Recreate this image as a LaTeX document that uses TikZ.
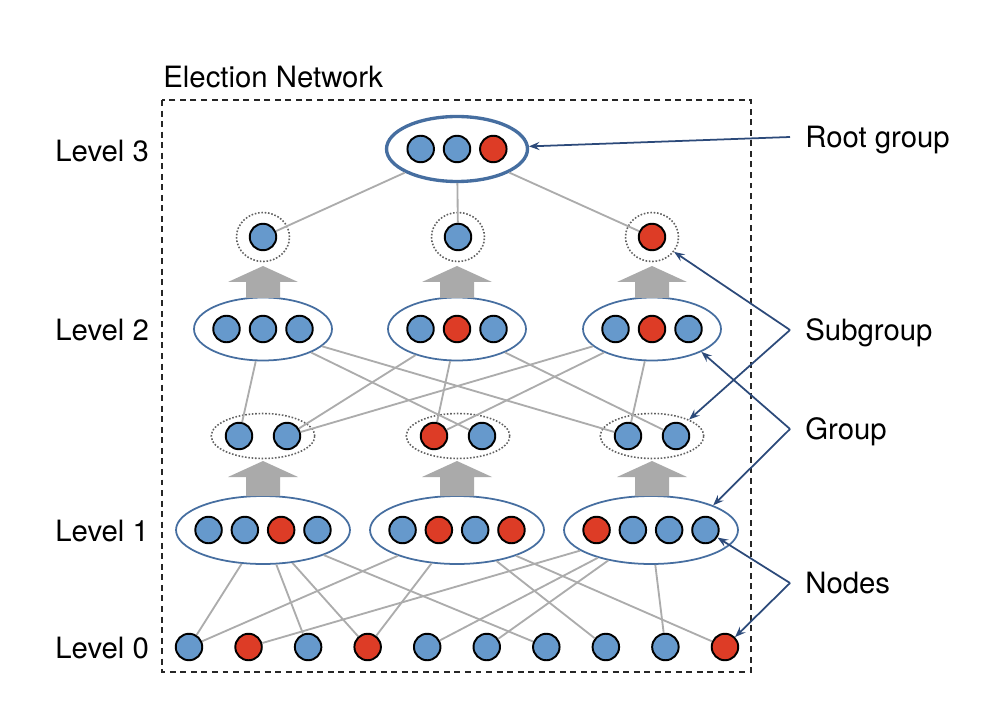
\documentclass[tikz,border=0pt]{standalone}
\usepackage{fontspec}
\setmainfont{TeX Gyre Heros}
\usetikzlibrary{shapes.geometric, arrows.meta, positioning}

\definecolor{nodeb}{RGB}{102,153,204}
\definecolor{noder}{RGB}{221,60,38}
\definecolor{grpblue}{RGB}{70,110,160}
\definecolor{annblue}{RGB}{44,74,122}
\definecolor{linkgray}{RGB}{172,172,172}
\definecolor{fatgray}{RGB}{170,170,170}

\begin{document}
\begin{tikzpicture}[x=0.02cm, y=-0.02cm,
    dot/.style={circle, draw=black, line width=1.1pt, minimum size=0.53cm, inner sep=0pt},
    group/.style={ellipse, draw=grpblue, line width=1pt, minimum width=3.48cm, minimum height=1.36cm, inner sep=0pt},
    upgroup/.style={group, minimum width=2.76cm, minimum height=1.26cm},
    rootgroup/.style={group, line width=1.9pt, minimum width=2.82cm, minimum height=1.3cm},
    subgroup/.style={ellipse, draw=black!62, line width=0.9pt, densely dotted, minimum width=2.07cm, minimum height=0.9cm, inner sep=0pt},
    single/.style={subgroup, minimum width=1.06cm, minimum height=0.98cm},
    link/.style={draw=linkgray, line width=1.05pt},
    annot/.style={-{Stealth[length=6pt, width=4.6pt, inset=2.2pt]}, draw=annblue, line width=1pt},
    lbl/.style={font=\fontsize{16.7}{20}\selectfont, inner sep=0pt, text height=12pt, text depth=0pt}]

    \useasboundingbox (0,0) rectangle (982,712);

    % frame and level labels
    \draw[black!85, line width=0.85pt, dash pattern=on 3.4pt off 2.6pt] (162,100) rectangle (751,672);
    \node[lbl, anchor=west] (title) at (163,77) {Election Network};
    \node[lbl, anchor=west] (lev3) at (55,151) {Level 3};
    \node[lbl, anchor=west] (lev2) at (55,330) {Level 2};
    \node[lbl, anchor=west] (lev1) at (55,531) {Level 1};
    \node[lbl, anchor=west] (lev0) at (55,648) {Level 0};

    % Level 0
    \foreach \c [count=\i from 0] in {b,r,b,r,b,b,b,b,b,r}
        \node[dot, fill=node\c] (n\i) at ({189+59.55*\i},647) {};

    % Level 1 groups
    \node[group] (g1) at (263,530) {};
    \node[group] (g2) at (457,530) {};
    \node[group] (g3) at (651,530) {};
    \foreach \c [count=\i] in {b,b,r,b} \node[dot, fill=node\c] (g1-\i) at ({263+36.3*(\i-2.5)},530) {};
    \foreach \c [count=\i] in {b,r,b,r} \node[dot, fill=node\c] (g2-\i) at ({457+36.3*(\i-2.5)},530) {};
    \foreach \c [count=\i] in {r,b,b,b} \node[dot, fill=node\c] (g3-\i) at ({651+36.3*(\i-2.5)},530) {};

    % subgroups of level 1
    \node[subgroup] (s1) at (263,436) {};
    \node[subgroup] (s2) at (458,436) {};
    \node[subgroup] (s3) at (652,436) {};
    \foreach \c [count=\i] in {b,b} \node[dot, fill=node\c] (s1-\i) at ({263+24*(2*\i-3)},436) {};
    \foreach \c [count=\i] in {r,b} \node[dot, fill=node\c] (s2-\i) at ({458+24*(2*\i-3)},436) {};
    \foreach \c [count=\i] in {b,b} \node[dot, fill=node\c] (s3-\i) at ({652+24*(2*\i-3)},436) {};

    % Level 2 groups
    \node[upgroup] (h1) at (263,329) {};
    \node[upgroup] (h2) at (457,329) {};
    \node[upgroup] (h3) at (652,329) {};
    \foreach \c [count=\i] in {b,b,b} \node[dot, fill=node\c] (h1-\i) at ({263+36.5*(\i-2)},329) {};
    \foreach \c [count=\i] in {b,r,b} \node[dot, fill=node\c] (h2-\i) at ({457+36.5*(\i-2)},329) {};
    \foreach \c [count=\i] in {b,r,b} \node[dot, fill=node\c] (h3-\i) at ({652+36.5*(\i-2)},329) {};

    % subgroups of level 2
    \node[single] (t1) at (263,237) {};
    \node[single] (t2) at (458,237) {};
    \node[single] (t3) at (652,237) {};
    \node[dot, fill=nodeb] (t1-1) at (263,237) {};
    \node[dot, fill=nodeb] (t2-1) at (458,237) {};
    \node[dot, fill=noder] (t3-1) at (652,237) {};

    % Level 3 root group
    \node[rootgroup] (root) at (457,149) {};
    \foreach \c [count=\i] in {b,b,r} \node[dot, fill=node\c] (r-\i) at ({457+36.3*(\i-2)},149) {};

    % fat arrows from groups to their subgroups
    \foreach \x in {263,457,652} {
        \fill[fatgray] (\x-17,298) -- (\x-17,282) -- (\x-35,282) -- (\x,266) -- (\x+35,282) -- (\x+17,282) -- (\x+17,298) -- cycle;
        \fill[fatgray] (\x-17,496) -- (\x-17,477) -- (\x-35,477) -- (\x,461) -- (\x+35,477) -- (\x+17,477) -- (\x+17,496) -- cycle;
    }

    % links
    \draw[link] (root) -- (t1-1);
    \draw[link] (root) -- (t2-1);
    \draw[link] (root) -- (t3-1);
    \foreach \a/\b in {h1/s1-1, h1/s2-2, h1/s3-1, h2/s1-2, h2/s2-1, h2/s3-2, h3/s1-2, h3/s2-1, h3/s3-1}
        \draw[link] (\a) -- (\b);
    \foreach \a/\b in {g1/n0, g1/n2, g1/n3, g1/n6, g2/n0, g2/n3, g2/n7, g2/n9, g3/n1, g3/n4, g3/n5, g3/n8}
        \draw[link] (\a) -- (\b);

    % annotations
    \coordinate (vroot) at (790,137);
    \coordinate (vsub) at (790,330);
    \coordinate (vgrp) at (790,429);
    \coordinate (vnod) at (790,583);
    \node[lbl, right=0.3cm of vroot] (rootl) {Root group};
    \node[lbl, right=0.3cm of vsub] (subl) {Subgroup};
    \node[lbl, right=0.3cm of vgrp] (grpl) {Group};
    \node[lbl, right=0.3cm of vnod] (nodl) {Nodes};
    \draw[annot] (vroot) -- (root);
    \draw[annot] (vsub) -- (t3);
    \draw[annot] (vsub) -- (s3.north east);
    \draw[annot] (vgrp) -- (h3.south east);
    \draw[annot] (vgrp) -- (g3.north east);
    \draw[annot] (vnod) -- (g3-4);
    \draw[annot] (vnod) -- (n9);

\end{tikzpicture}
\end{document}
